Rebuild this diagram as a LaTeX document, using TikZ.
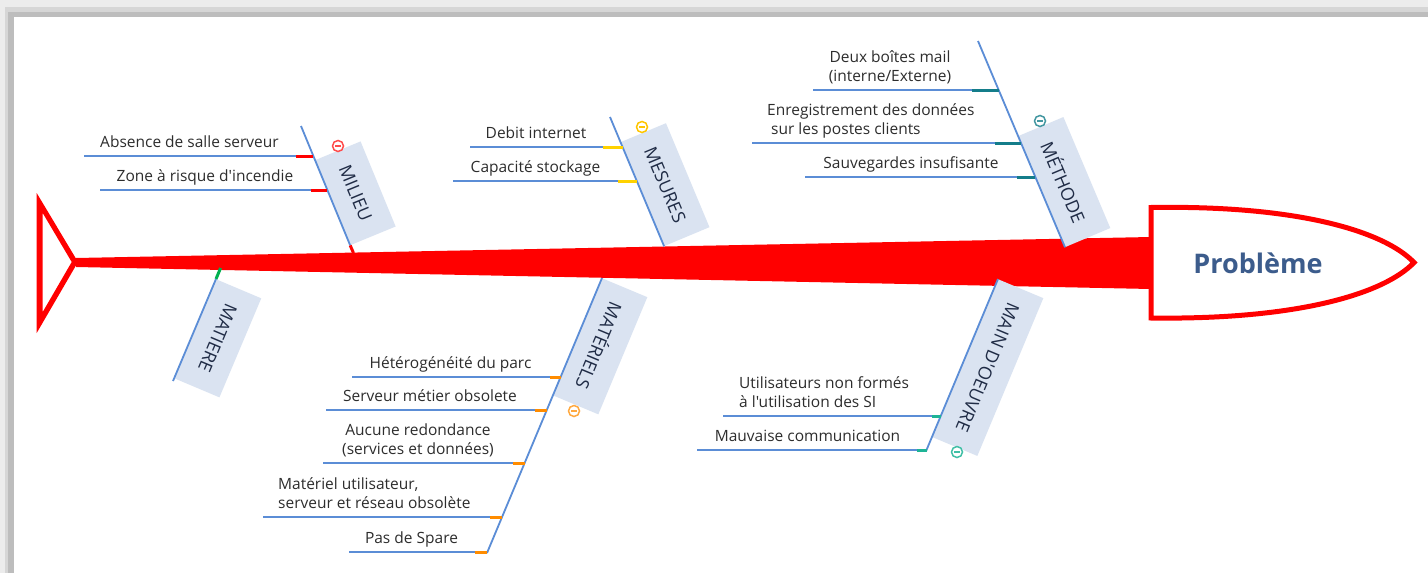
\documentclass[tikz,border=0pt]{standalone}
\usepackage{fontspec}
\newfontfamily\osans{Open Sans}
\definecolor{bonecol}{RGB}{91,141,214}
\definecolor{boxcol}{RGB}{218,227,241}
\definecolor{labelcol}{RGB}{32,44,70}
\definecolor{causecol}{RGB}{45,45,45}
\definecolor{probcol}{RGB}{60,92,140}
\definecolor{fishred}{RGB}{255,0,0}
\definecolor{mesyellow}{RGB}{255,210,0}
\definecolor{methteal}{RGB}{20,125,138}
\definecolor{matgreen}{RGB}{0,176,80}
\definecolor{matorange}{RGB}{255,140,0}
\definecolor{moteal}{RGB}{30,180,150}
\definecolor{shadeA}{RGB}{236,236,236}
\definecolor{shadeB}{RGB}{214,214,214}
\definecolor{shadeC}{RGB}{189,189,189}

% one sub-cause rule: name, y, left x, start of coloured end, right x (on the bone), colour
\newcommand\causeline[6]{%
  \coordinate (#1L) at (#3,#2);
  \coordinate (#1S) at (#4,#2);
  \coordinate (#1R) at (#5,#2);
  \draw[subline] (#1L) -- (#1S);
  \draw[causestub=#6] (#1S) -- (#1R);}

% collapse button: name, position, colour
\newcommand\collapsebutton[3]{%
  \node[collapsebtn=#3] (#1) at #2 {};
  \draw[#3, line width=1.1pt] ([xshift=-2.6pt]#1.center) -- ([xshift=2.6pt]#1.center);}

\begin{document}
\begin{tikzpicture}[x=1pt, y=-1pt,
  bone/.style={draw=bonecol, line width=1.8pt},
  subline/.style={draw=bonecol, line width=2.6pt},
  causestub/.style={draw=#1, line width=3pt},
  catbox/.style={fill=boxcol, anchor=south west, minimum height=49pt,
    inner sep=0pt, text=labelcol, font=\osans\fontsize{18}{18}\selectfont},
  cause/.style={text=causecol, inner sep=0pt, font=\osans\fontsize{15.5}{19}\selectfont},
  collapsebtn/.style={circle, draw=#1, fill=white, line width=1.5pt,
    minimum size=11pt, inner sep=0pt}]

\useasboundingbox (0,0) rectangle (1428,573);

% soft frame shadow
\fill[shadeA] (0,0) rectangle (1428,573);
\fill[shadeB] (5,7) rectangle (1428,573);
\fill[shadeC] (8,12) rectangle (1428,573);
\fill[white] (14,17) rectangle (1428,573);

% spine
\fill[fishred] (76,258) -- (1151,237) -- (1151,289) -- (76,267) -- cycle;

% tail
\fill[fishred, even odd rule]
  (36.7,193) -- (78,262) -- (36.7,333) -- cycle
  (42.7,213) -- (71.7,262) -- (42.7,312) -- cycle;

% head
\coordinate (headTL) at (1151,207.5);
\coordinate (headBL) at (1151,318);
\coordinate (headTip) at (1414,262.5);
\draw[fishred, fill=white, line width=5pt, line join=miter]
  (headTL) .. controls (1300,205) and (1385,232) .. (headTip)
  .. controls (1385,293) and (1300,320) .. (headBL) -- cycle;
\node[font=\osans\bfseries\fontsize{27}{27}\selectfont, text=probcol] (probleme)
  at (1258,263) {Problème};

% category boxes
\node[catbox, rotate=-67.6, minimum width=92pt]    (milieu)    at (315,160)    {MILIEU};
\node[catbox, rotate=-67.3, minimum width=112.7pt] (mesures)   at (620.5,142)  {MESURES};
\node[catbox, rotate=-67.1, minimum width=120.5pt] (methode)   at (1018,136)   {MÉTHODE};
\node[catbox, rotate=-112.9, minimum width=107.5pt] (matiere)  at (216,279)    {MATIERE};
\node[catbox, rotate=-112.7, minimum width=127pt]  (materiels) at (602,278)    {MATÉRIELS};
\node[catbox, rotate=-112.7, minimum width=171pt]  (mainoeuvre) at (998,279)   {MAIN D'OEUVRE};

% bones
\coordinate (milieuTop) at (301,126);
\coordinate (milieuSpine) at (353.5,253);
\draw[bone] (milieuTop) -- (milieu.south east);
\draw[causestub=fishred] (milieu.south east) -- (milieuSpine);

\coordinate (mesuresTop) at (610,117);
\draw[bone] (mesuresTop) -- (mesures.south east);

\coordinate (methodeTop) at (978,41);
\draw[bone] (methodeTop) -- (methode.south east);

\coordinate (matiereSpine) at (220.6,268);
\coordinate (matiereEnd) at (173,381);
\draw[causestub=matgreen] (matiereSpine) -- (matiere.south west);
\draw[bone] (matiere.south west) -- (matiereEnd);

\coordinate (materielsEnd) at (487,553);
\draw[bone] (materiels.south west) -- (materielsEnd);

\coordinate (mainoeuvreEnd) at (926.1,451);
\draw[bone] (mainoeuvre.south west) -- (mainoeuvreEnd);

% sub-cause rules
\causeline{c11}{156}{84}{296}{313.3}{fishred}
\causeline{c12}{190}{100}{311}{327.3}{fishred}
\causeline{c21}{147}{470}{603}{622.6}{mesyellow}
\causeline{c22}{181}{453}{618}{636.8}{mesyellow}
\causeline{c31}{90}{813}{972}{998.7}{methteal}
\causeline{c32}{143}{752}{995}{1021}{methteal}
\causeline{c33}{177}{805}{1017}{1035.4}{methteal}
\causeline{c41}{377}{352}{550}{560.5}{matorange}
\causeline{c42}{410}{326}{535}{546.7}{matorange}
\causeline{c43}{463}{323}{513}{524.5}{matorange}
\causeline{c44}{517}{263}{490}{502}{matorange}
\causeline{c45}{552}{349}{475}{487.2}{matorange}
\causeline{c51}{416}{723}{932}{940.7}{moteal}
\causeline{c52}{450}{697}{917}{926.5}{moteal}

% sub-cause texts (base anchor = baseline of the last line)
\node[cause, anchor=base] (t11) at (189.5,147.5) {Absence de salle serveur};
\node[cause, anchor=base] (t12) at (205,181.5) {Zone à risque d'incendie};
\node[cause, anchor=base] (t21) at (536,138.5) {Debit internet};
\node[cause, anchor=base] (t22) at (535.5,172.5) {Capacité stockage};
\node[cause, anchor=base, align=center] (t31) at (890,81.5) {Deux boîtes mail\\(interne/Externe)};
\node[cause, anchor=base west, align=left] (t32) at (767,134.5) {Enregistrement des données\\\hspace*{4pt}sur les postes clients};
\node[cause, anchor=base] (t33) at (911,168.5) {Sauvegardes insufisante};
\node[cause, anchor=base] (t41) at (450.5,368.5) {Hétérogénéité du parc};
\node[cause, anchor=base] (t42) at (430,401.5) {Serveur métier obsolete};
\node[cause, anchor=base, align=center] (t43) at (418,454.5) {Aucune redondance\\(services et données)};
\node[cause, anchor=base west, align=left] (t44) at (278,508.5) {Matériel utilisateur,\\serveur et réseau obsolète};
\node[cause, anchor=base] (t45) at (411.5,543.5) {Pas de Spare};
\node[cause, anchor=base west, align=left] (t51) at (739,407.5) {Utilisateurs non formés\\à l'utilisation des SI};
\node[cause, anchor=base] (t52) at (807.5,441.5) {Mauvaise communication};

% collapse buttons
\collapsebutton{milieuBtn}{(338,146)}{fishred!70}
\collapsebutton{mesuresBtn}{(642,127)}{mesyellow!85!orange}
\collapsebutton{methodeBtn}{(1040,121)}{methteal!80}
\collapsebutton{materielsBtn}{(574,411)}{matorange!75}
\collapsebutton{mainoeuvreBtn}{(957,452)}{moteal!85}

\end{tikzpicture}
\end{document}
